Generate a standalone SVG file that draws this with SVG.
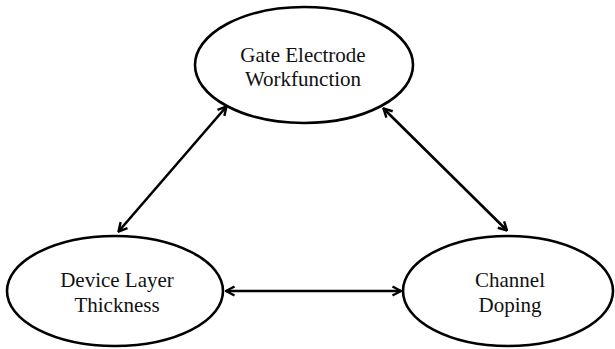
<svg xmlns="http://www.w3.org/2000/svg" width="615" height="349" viewBox="0 0 615 349">
  <style>
    .node ellipse { fill: #ffffff; stroke: #000000; stroke-width: 2.6; }
    .node text { font-family: "Liberation Serif", "Times New Roman", serif; font-size: 21px; fill: #111111; text-anchor: middle; }
    .edge { stroke: #000000; stroke-width: 2.6; fill: none; marker-start: url(#head); marker-end: url(#head); }
  </style>
  <defs>
    <marker id="head" markerUnits="userSpaceOnUse" viewBox="0 0 12 12" markerWidth="12" markerHeight="12" refX="11" refY="6" orient="auto-start-reverse">
      <path d="M2.5,1.5 L11,6 L2.5,10.5" fill="none" stroke="#000000" stroke-width="2.4" stroke-linejoin="miter"/>
    </marker>
  </defs>

  <rect width="615" height="349" fill="#ffffff"/>

  <g id="connectors">
    <line class="edge" x1="118.5" y1="231.5" x2="226.5" y2="106.5"/>
    <line class="edge" x1="383.5" y1="108.5" x2="507" y2="230.5"/>
    <line class="edge" x1="226" y1="291" x2="401" y2="291"/>
  </g>

  <g id="gate-electrode" class="node">
    <ellipse cx="304" cy="65" rx="109" ry="58"/>
    <text x="303" y="62">Gate Electrode</text>
    <text x="303" y="86">Workfunction</text>
  </g>

  <g id="device-layer" class="node">
    <ellipse cx="115" cy="291" rx="108" ry="55"/>
    <text x="117" y="287">Device Layer</text>
    <text x="117" y="312">Thickness</text>
  </g>

  <g id="channel-doping" class="node">
    <ellipse cx="508" cy="291" rx="105" ry="55"/>
    <text x="510" y="287">Channel</text>
    <text x="510" y="312">Doping</text>
  </g>
</svg>
